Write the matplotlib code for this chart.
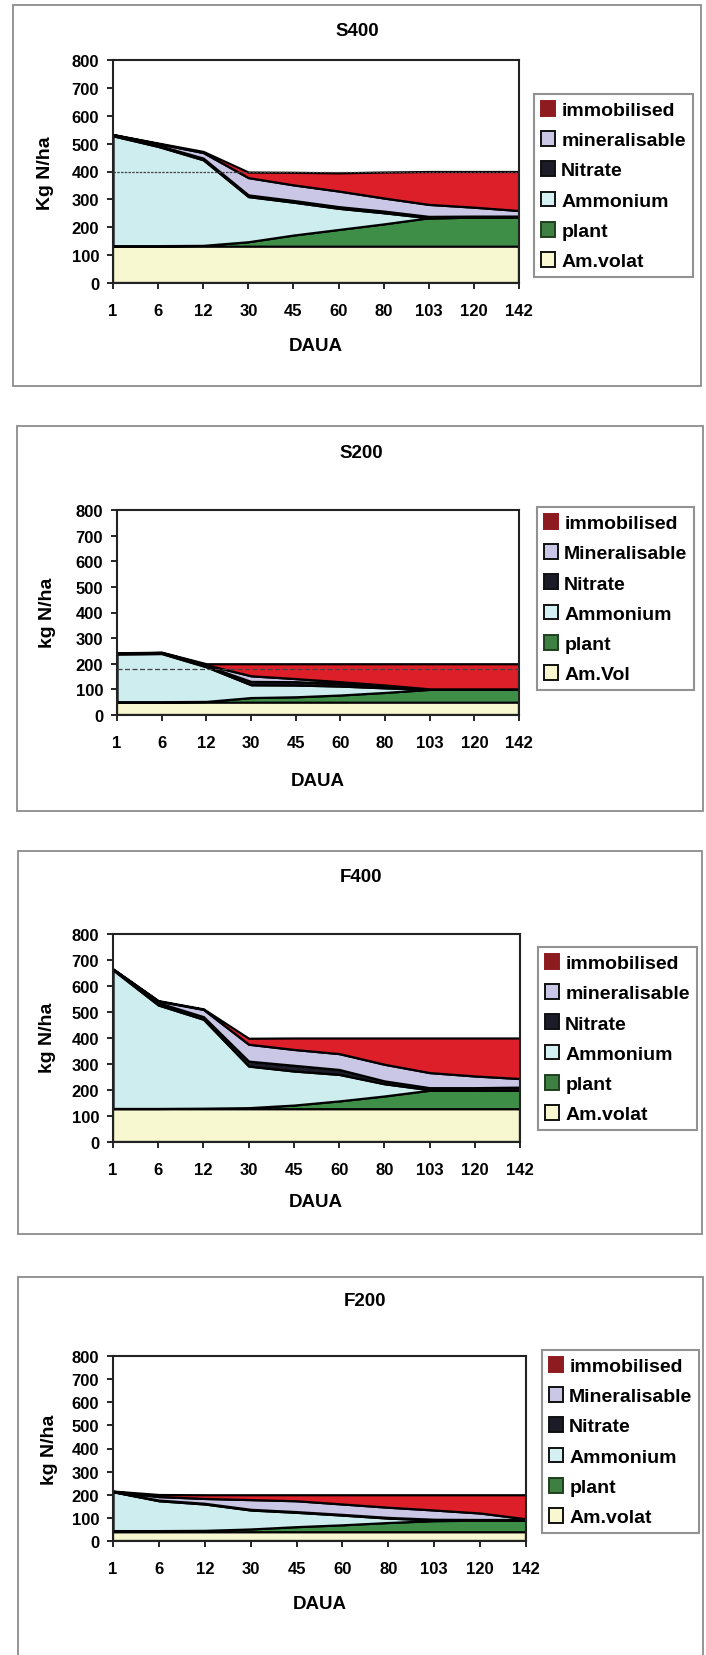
import numpy as np
import matplotlib
matplotlib.use('Agg')
import matplotlib.pyplot as plt
from matplotlib.patches import Patch, Rectangle

plt.rcParams['font.family'] = ['Liberation Sans', 'DejaVu Sans']

W, H = 706, 1656

# ---------------- data ----------------
days = ['1', '6', '12', '30', '45', '60', '80', '103', '120', '142']
y_ticks = [0, 100, 200, 300, 400, 500, 600, 700, 800]

# S400 (bottom to top components, kg N/ha)
s400_volat = [132, 132, 132, 132, 132, 132, 132, 132, 132, 132]
s400_plant = [2, 2, 3, 16, 40, 60, 80, 102, 104, 104]
s400_ammonium = [394, 356, 307, 162, 118, 76, 40, 0, 0, 0]
s400_nitrate = [3, 4, 6, 6, 6, 6, 6, 5, 4, 4]
s400_mineral = [1, 6, 20, 62, 56, 56, 47, 43, 32, 20]
s400_immob = [1, 2, 4, 20, 45, 65, 93, 118, 128, 140]
s400_ref = 400

# S200
s200_volat = [50, 50, 50, 50, 50, 50, 50, 50, 50, 50]
s200_plant = [2, 2, 3, 18, 21, 28, 38, 50, 50, 50]
s200_ammonium = [186, 188, 135, 50, 46, 35, 18, 0, 0, 0]
s200_nitrate = [3, 3, 4, 13, 13, 10, 7, 1, 1, 1]
s200_mineral = [1, 1, 4, 22, 12, 7, 4, 1, 1, 1]
s200_immob = [1, 1, 4, 47, 58, 70, 83, 98, 98, 98]
s200_ref = 178

# F400
f400_volat = [128, 128, 128, 128, 128, 128, 128, 128, 128, 128]
f400_plant = [1, 1, 2, 4, 14, 30, 49, 71, 72, 72]
f400_ammonium = [533, 398, 342, 160, 131, 102, 47, 2, 0, 0]
f400_nitrate = [2, 9, 10, 19, 22, 19, 11, 8, 9, 11]
f400_mineral = [1, 6, 28, 65, 61, 61, 64, 58, 45, 33]
f400_immob = [1, 2, 2, 23, 44, 60, 101, 133, 146, 156]

# F200
f200_volat = [40, 40, 40, 40, 40, 40, 40, 40, 40, 40]
f200_plant = [5, 5, 6, 12, 22, 30, 40, 48, 50, 50]
f200_ammonium = [168, 129, 114, 82, 62, 42, 19, 3, 0, 0]
f200_nitrate = [1, 3, 3, 3, 3, 3, 3, 3, 3, 3]
f200_mineral = [1, 15, 21, 42, 47, 45, 44, 40, 28, 3]
f200_immob = [1, 9, 16, 21, 26, 40, 54, 66, 79, 104]

s400_labels = ['immobilised', 'mineralisable', 'Nitrate', 'Ammonium', 'plant', 'Am.volat']
s200_labels = ['immobilised', 'Mineralisable', 'Nitrate', 'Ammonium', 'plant', 'Am.Vol']
f400_labels = ['immobilised', 'mineralisable', 'Nitrate', 'Ammonium', 'plant', 'Am.volat']
f200_labels = ['immobilised', 'Mineralisable', 'Nitrate', 'Ammonium', 'plant', 'Am.volat']

# ---------------- style ----------------
fill_colors = ['#F8F8D0', '#3F8E48', '#CDEDEF', '#1C1C28', '#C9C6E6', '#DD1F2A']
legend_colors = ['#8E1B1F', '#C9C6E6', '#1C1C28', '#D5F0F2', '#3E7F42', '#F8F8D0']
legend_edges = ['#8E1B1F', '#111111', '#111111', '#111111', '#1f3f1f', '#111111']

panels = [
    dict(title='S400', ylabel='Kg N/ha', labels=s400_labels,
         data=[s400_volat, s400_plant, s400_ammonium, s400_nitrate, s400_mineral, s400_immob],
         ref=s400_ref, ref_ls=(0, (2, 1)),
         ax=(113, 61, 519, 284), frame=(13, 6, 701, 387), title_xy=(357, 32),
         xlab_xy=(316, 347), ylab_xy=(45, 173), leg=(534, 95, 697, 277)),
    dict(title='S200', ylabel='kg N/ha', labels=s200_labels,
         data=[s200_volat, s200_plant, s200_ammonium, s200_nitrate, s200_mineral, s200_immob],
         ref=s200_ref, ref_ls=(0, (4, 2)),
         ax=(117, 511, 519, 716), frame=(17, 427, 703, 812), title_xy=(361, 453),
         xlab_xy=(318, 782), ylab_xy=(47, 613), leg=(537, 508, 697, 692)),
    dict(title='F400', ylabel='kg N/ha', labels=f400_labels,
         data=[f400_volat, f400_plant, f400_ammonium, f400_nitrate, f400_mineral, f400_immob],
         ref=None, ref_ls=None,
         ax=(113, 935, 520, 1143), frame=(18, 852, 702, 1235), title_xy=(361, 878),
         xlab_xy=(316, 1203), ylab_xy=(47, 1038), leg=(538, 948, 697, 1129)),
    dict(title='F200', ylabel='kg N/ha', labels=f200_labels,
         data=[f200_volat, f200_plant, f200_ammonium, f200_nitrate, f200_mineral, f200_immob],
         ref=None, ref_ls=None,
         ax=(113, 1357, 526, 1542), frame=(18, 1278, 703, 1670), title_xy=(365, 1302),
         xlab_xy=(320, 1605), ylab_xy=(49, 1450), leg=(542, 1351, 702, 1532)),
]


def fx(x):
    return x / W


def fy(y):
    return 1 - y / H


fig = plt.figure(figsize=(W / 100, H / 100), dpi=100)
fig.patch.set_facecolor('white')

for p in panels:
    l, t, r, b = p['frame']
    fig.patches.append(Rectangle((fx(l), fy(b)), fx(r) - fx(l), fy(t) - fy(b),
                                 transform=fig.transFigure, fill=False,
                                 edgecolor='#8c8c8c', linewidth=1.3, zorder=0))

    l, t, r, b = p['ax']
    ax = fig.add_axes([fx(l), fy(b), fx(r) - fx(l), fy(t) - fy(b)])
    x = np.arange(len(days))
    ax.stackplot(x, *p['data'], colors=fill_colors, edgecolor='black', linewidth=1.6)
    if p['ref'] is not None:
        ax.axhline(p['ref'], color='#444444', linewidth=0.9, linestyle=p['ref_ls'], zorder=3)
    ax.set_xlim(0, len(days) - 1)
    ax.set_ylim(0, 800)
    ax.set_xticks(x)
    ax.set_xticklabels(days)
    ax.set_yticks(y_ticks)
    ax.tick_params(axis='both', direction='out', length=4, width=1.2, labelsize=12)
    ax.tick_params(axis='x', pad=10.5)
    ax.tick_params(axis='y', pad=6)
    for lab in ax.get_xticklabels() + ax.get_yticklabels():
        lab.set_fontweight('bold')
    for s in ax.spines.values():
        s.set_linewidth(1.5)
        s.set_color('#222222')
    ax.set_facecolor('white')

    fig.text(fx(p['title_xy'][0]), fy(p['title_xy'][1]), p['title'], ha='center', va='center',
             fontsize=13.5, fontweight='bold')
    fig.text(fx(p['xlab_xy'][0]), fy(p['xlab_xy'][1]), 'DAUA', ha='center', va='center',
             fontsize=13.5, fontweight='bold')
    fig.text(fx(p['ylab_xy'][0]), fy(p['ylab_xy'][1]), p['ylabel'], ha='center', va='center',
             rotation=90, fontsize=14, fontweight='bold')

    handles = [Patch(facecolor=fc, edgecolor=ec, linewidth=1.4)
               for fc, ec in zip(legend_colors, legend_edges)]
    ll, lt, lr, lb = p['leg']
    leg = ax.legend(handles, p['labels'], loc='upper left',
                    bbox_to_anchor=(fx(ll), fy(lt)), bbox_transform=fig.transFigure,
                    borderaxespad=0, frameon=True, fancybox=False,
                    prop={'weight': 'bold', 'size': 14}, handlelength=0.75,
                    handleheight=0.8, handletextpad=0.3, labelspacing=0.62,
                    borderpad=0.35)
    leg.get_frame().set_edgecolor('#777777')
    leg.get_frame().set_linewidth(1.5)

fig.savefig('out.png', dpi=100, facecolor='white')
